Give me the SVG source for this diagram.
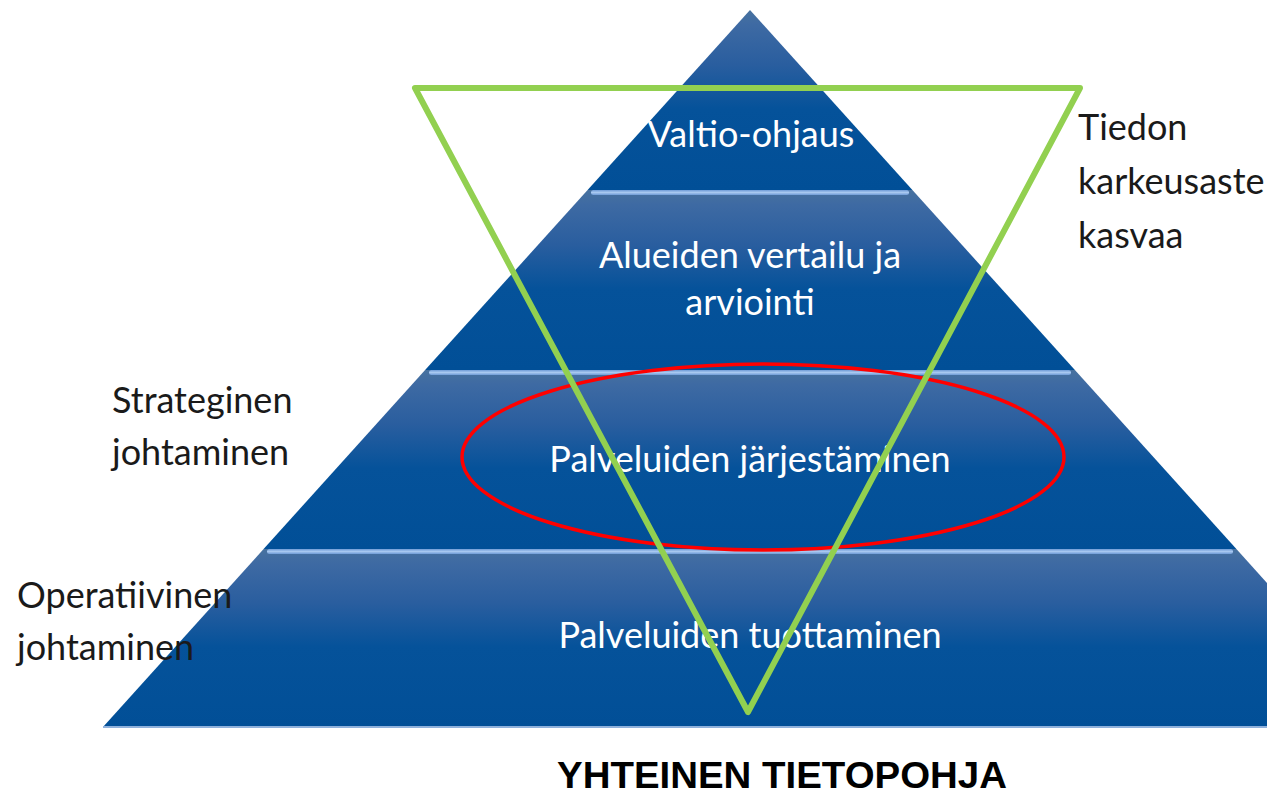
<svg xmlns="http://www.w3.org/2000/svg" width="1267" height="795" viewBox="0 0 1267 795">
<defs>
<linearGradient id="band" x1="0" y1="0" x2="0" y2="1">
<stop offset="0" stop-color="#48729f"/>
<stop offset="0.08" stop-color="#3e6aa3"/>
<stop offset="0.3" stop-color="#2a5e9f"/>
<stop offset="0.55" stop-color="#05529a"/>
<stop offset="1" stop-color="#014f97"/>
</linearGradient>
<linearGradient id="hl" x1="0" y1="0" x2="0" y2="1">
<stop offset="0" stop-color="#6f9bd6"/>
<stop offset="0.5" stop-color="#a8c8f0"/>
<stop offset="1" stop-color="#6f9bd6"/>
</linearGradient>
<style>
.band{fill:url(#band);}
.hl{fill:url(#hl);}
.wt{font-family:Lato,"Open Sans",sans-serif;font-size:36px;fill:#ffffff;text-anchor:middle;}
.bt{font-family:Lato,"Open Sans",sans-serif;font-size:36px;fill:#1a1a1a;}
.title{font-family:"Liberation Sans",Arial,sans-serif;font-size:36px;font-weight:bold;fill:#000;text-anchor:middle;}
</style>
</defs>
<rect width="1267" height="795" fill="#ffffff"/>
<g id="pyramid">
<g id="layer1">
<polygon class="band" points="750,10 912.4,190 587.6,190"/>
<text class="wt" x="751" y="147">Valtio-ohjaus</text>
</g>
<g id="layer2">
<polygon class="band" points="587.6,190 912.4,190 1074.9,370 425.1,370"/>
<rect class="hl" x="591" y="190" width="318" height="5" rx="2.5"/>
<text class="wt" x="750" y="268">Alueiden vertailu ja</text>
<text class="wt" x="750" y="315">arviointi</text>
</g>
<g id="layer3">
<polygon class="band" points="425.1,370 1074.9,370 1236.4,549 263.6,549"/>
<rect class="hl" x="429" y="370" width="642" height="5" rx="2.5"/>
<text class="wt" x="750" y="472">Palveluiden järjestäminen</text>
</g>
<g id="layer4">
<polygon class="band" points="263.6,549 1236.4,549 1397,727 103,727"/>
<rect class="hl" x="267" y="549" width="966" height="5" rx="2.5"/>
<rect x="103" y="726" width="1164" height="2" fill="#8fb1dc"/>
<text class="wt" x="750" y="648">Palveluiden tuottaminen</text>
</g>
</g>
<g id="connectors">
<ellipse id="focus" cx="763" cy="457" rx="301" ry="93" fill="none" stroke="#ff0000" stroke-width="3.5"/>
<polygon id="granularity" points="415,88 1080,88 748,712" fill="none" stroke="#92d050" stroke-width="6" stroke-linejoin="round"/>
</g>
<g id="label-strategic">
<text class="bt" x="112" y="413">Strateginen</text>
<text class="bt" x="112" y="465">johtaminen</text>
</g>
<g id="label-operative">
<text class="bt" x="17" y="608">Operatiivinen</text>
<text class="bt" x="17" y="660">johtaminen</text>
</g>
<g id="label-granularity">
<text class="bt" x="1078" y="140">Tiedon</text>
<text class="bt" x="1078" y="194">karkeusaste</text>
<text class="bt" x="1078" y="248">kasvaa</text>
</g>
<g id="footer">
<text class="title" x="782" y="788" textLength="450" lengthAdjust="spacingAndGlyphs">YHTEINEN TIETOPOHJA</text>
</g>
</svg>
